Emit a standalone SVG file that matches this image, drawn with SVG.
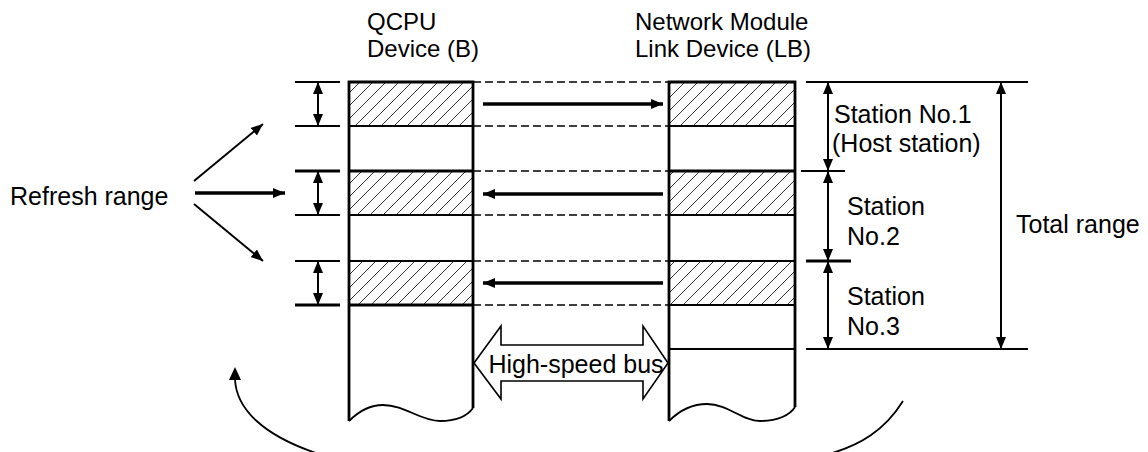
<svg xmlns="http://www.w3.org/2000/svg" width="1148" height="452" viewBox="0 0 1148 452">
<style>
text{font-family:"Liberation Sans",Arial,sans-serif;font-size:25px;fill:#000}
text.hd{font-size:24px}
.col{fill:none;stroke:#000;stroke-width:2.8}
.row{stroke:#000;stroke-width:2}
.rowb{stroke:#000;stroke-width:3}
.dash{stroke:#000;stroke-width:1.5;stroke-dasharray:8,4}
.tick{stroke:#000;stroke-width:2}
.tickb{stroke:#000;stroke-width:3}
.arr{stroke:#000;stroke-width:2;fill:none}
.arrb{stroke:#000;stroke-width:3.5;fill:none}
.curve{stroke:#000;stroke-width:1.8;fill:none}
</style>
<defs>
<pattern id="hatch" patternUnits="userSpaceOnUse" width="13" height="13">
<path d="M-2,2 L2,-2 M0,13 L13,0 M11,15 L15,11" stroke="#333" stroke-width="1"/>
</pattern>
<marker id="ah" markerUnits="userSpaceOnUse" markerWidth="12" markerHeight="10" refX="12" refY="5" orient="auto-start-reverse">
<path d="M0,0 L12,5 L0,10 z" fill="#000"/>
</marker>
</defs>

<g id="qcpu">
<rect x="349" y="82" width="124" height="44" fill="url(#hatch)"/>
<rect x="349" y="171" width="124" height="44" fill="url(#hatch)"/>
<rect x="349" y="261" width="124" height="44" fill="url(#hatch)"/>
<line class="row" x1="349" y1="126" x2="473" y2="126"/>
<line class="rowb" x1="349" y1="171" x2="473" y2="171"/>
<line class="row" x1="349" y1="215" x2="473" y2="215"/>
<line class="row" x1="349" y1="261" x2="473" y2="261"/>
<line class="rowb" x1="349" y1="305" x2="473" y2="305"/>
<path class="col" d="M349,421 L349,82 L473,82 L473,408"/>
<path class="curve" d="M349,421 C360,410 370,405 383,405 C405,405 420,421 440,421 C458,421 468,415 473,408"/>
<text class="hd" x="367" y="30">QCPU</text>
<text class="hd" x="367" y="57">Device (B)</text>
</g>

<g id="netmod">
<rect x="669" y="82" width="126" height="44" fill="url(#hatch)"/>
<rect x="669" y="171" width="126" height="44" fill="url(#hatch)"/>
<rect x="669" y="261" width="126" height="44" fill="url(#hatch)"/>
<line class="row" x1="669" y1="126" x2="795" y2="126"/>
<line class="rowb" x1="669" y1="171" x2="795" y2="171"/>
<line class="row" x1="669" y1="215" x2="795" y2="215"/>
<line class="row" x1="669" y1="261" x2="795" y2="261"/>
<line class="row" x1="669" y1="305" x2="795" y2="305"/>
<line class="row" x1="669" y1="349" x2="795" y2="349"/>
<path class="col" d="M669,421 L669,82 L795,82 L795,407"/>
<path class="curve" d="M669,421 C680,410 692,404 707,404 C728,404 742,421 760,421 C778,421 790,415 795,407"/>
<text class="hd" x="635" y="30">Network Module</text>
<text class="hd" x="635" y="57">Link Device (LB)</text>
</g>

<g id="bus">
<polygon points="474,363 501,326 501,345 643,345 643,326 668,363 643,399 643,381 501,381 501,399" fill="#fff" stroke="#000" stroke-width="1.6"/>
<text x="576" y="373" text-anchor="middle">High-speed bus</text>
</g>

<g id="refresh-label">
<text x="10" y="205">Refresh range</text>
</g>

<g id="left-dims">
<line class="tick" x1="295" y1="82" x2="340" y2="82"/>
<line class="tick" x1="295" y1="126" x2="340" y2="126"/>
<line class="tickb" x1="295" y1="171" x2="340" y2="171"/>
<line class="tick" x1="295" y1="215" x2="340" y2="215"/>
<line class="tick" x1="295" y1="261" x2="340" y2="261"/>
<line class="tickb" x1="295" y1="305" x2="340" y2="305"/>
</g>

<g id="right-dims">
<line class="tick" x1="806" y1="82" x2="1028" y2="82"/>
<line class="tick" x1="801" y1="171" x2="845" y2="171"/>
<line class="tickb" x1="806" y1="261" x2="851" y2="261"/>
<line class="tick" x1="806" y1="349" x2="1028" y2="349"/>
<text x="834" y="123">Station No.1</text>
<text x="832" y="152">(Host station)</text>
<text x="847" y="215">Station</text>
<text x="847" y="245">No.2</text>
<text x="847" y="305">Station</text>
<text x="847" y="335">No.3</text>
<text x="1016" y="233">Total range</text>
</g>

<g id="connectors">
<line class="dash" x1="473" y1="82" x2="669" y2="82"/>
<line class="dash" x1="473" y1="126" x2="669" y2="126" stroke-width="2.2"/>
<line class="dash" x1="473" y1="171" x2="669" y2="171"/>
<line class="dash" x1="473" y1="215" x2="669" y2="215"/>
<line class="dash" x1="473" y1="261" x2="669" y2="261"/>
<line class="dash" x1="473" y1="305" x2="669" y2="305"/>
<line class="arrb" x1="483" y1="104" x2="663" y2="104" marker-end="url(#ah)"/>
<line class="arrb" x1="663" y1="194" x2="483" y2="194" marker-end="url(#ah)"/>
<line class="arrb" x1="663" y1="283" x2="483" y2="283" marker-end="url(#ah)"/>
<line class="arr" x1="318" y1="82" x2="318" y2="126" marker-start="url(#ah)" marker-end="url(#ah)"/>
<line class="arr" x1="318" y1="171" x2="318" y2="215" marker-start="url(#ah)" marker-end="url(#ah)"/>
<line class="arr" x1="318" y1="261" x2="318" y2="305" marker-start="url(#ah)" marker-end="url(#ah)"/>
<line class="arr" x1="828" y1="82" x2="828" y2="171" marker-start="url(#ah)" marker-end="url(#ah)"/>
<line class="arr" x1="828" y1="171" x2="828" y2="261" marker-start="url(#ah)" marker-end="url(#ah)"/>
<line class="arr" x1="828" y1="261" x2="828" y2="349" marker-start="url(#ah)" marker-end="url(#ah)"/>
<line class="arr" x1="1001" y1="82" x2="1001" y2="349" marker-start="url(#ah)" marker-end="url(#ah)"/>
<line class="arr" x1="194" y1="181" x2="263" y2="124" marker-end="url(#ah)"/>
<line class="arrb" x1="195" y1="193" x2="285" y2="193" marker-end="url(#ah)"/>
<line class="arr" x1="194" y1="204" x2="263" y2="261" marker-end="url(#ah)"/>
<path class="curve" d="M235,379 C236,408 262,436 322,455"/>
<path d="M235,367 L241,380 L229,380 z" fill="#000"/>
<path class="curve" d="M903,401 C885,430 860,446 825,455"/>
</g>
</svg>
